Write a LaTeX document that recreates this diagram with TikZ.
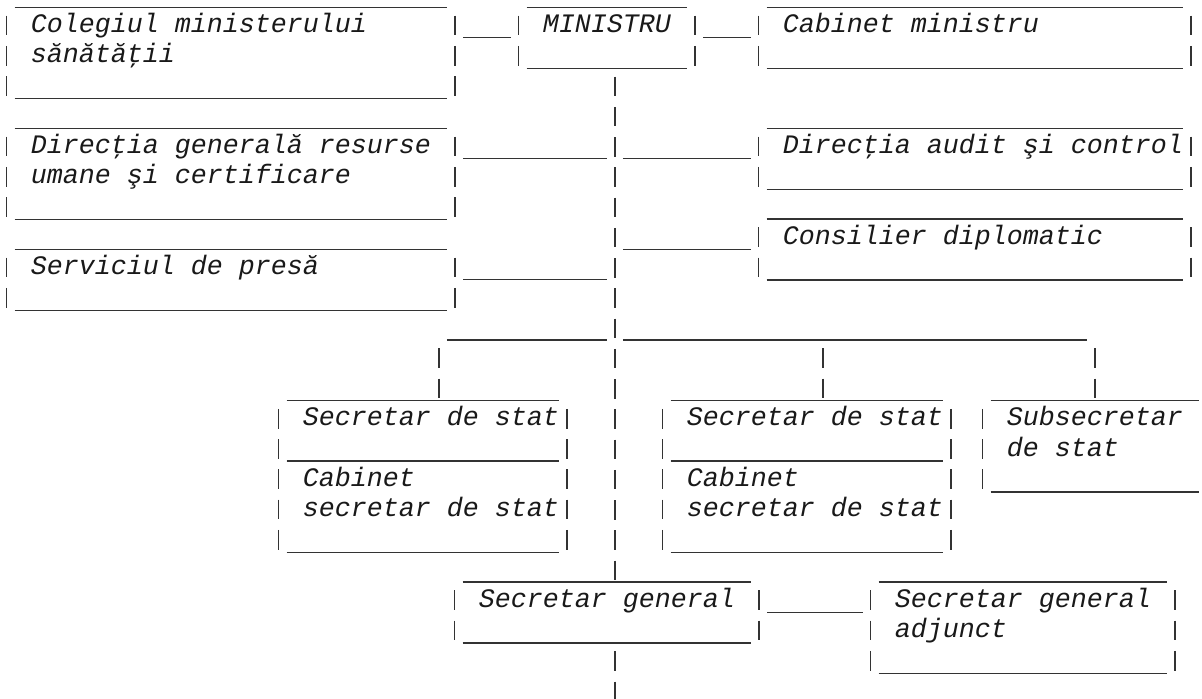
\documentclass[tikz,border=0pt]{standalone}
\usepackage{fontspec}
\setmonofont{Liberation Mono}
\usetikzlibrary{positioning}
\tikzset{
  box/.style={rectangle, inner sep=0pt, anchor=north west},
  lbl/.style={inner sep=0pt, anchor=base west, text=black!90,
    font=\ttfamily\itshape\fontsize{26.67}{30.25}\selectfont},
  hbar/.style={line width=1.5pt, draw=black!80},
  vbar/.style={hbar, dash pattern=on 19.6pt off 10.65pt, dash phase=22.05pt},
  link/.style={hbar, shorten <=8pt, shorten >=8pt}
}
\begin{document}
\begin{tikzpicture}[x=16pt, y=-30.25pt]
\useasboundingbox (-0.419,-0.248) rectangle (74.71,22.83);
% boxes: name/left col/top row/right col/bottom row/text
\foreach \n/\ca/\ra/\cb/\rb/\txt in {
    colegiu/0/0/28/3/{Colegiul ministerului\\sănătăţii},
    ministru/32/0/43/2/{MINISTRU},
    cabmin/47/0/74/2/{Cabinet ministru},
    dgrh/0/4/28/7/{Direcţia generală resurse\\umane şi certificare},
    audit/47/4/74/6/{Direcţia audit şi control},
    consilier/47/7/74/9/{Consilier diplomatic},
    presa/0/8/28/10/{Serviciul de presă},
    ss1/17/13/35/15/{Secretar de stat},
    cab1/17/15/35/18/{Cabinet\\secretar de stat},
    ss2/41/13/59/15/{Secretar de stat},
    cab2/41/15/59/18/{Cabinet\\secretar de stat},
    subsec/61/13/75/16/{Subsecretar\\de stat},
    sg/28/19/47/21/{Secretar general},
    sga/54/19/73/22/{Secretar general\\adjunct}}{
  \node[box, minimum width={(\cb-\ca)*16pt}, minimum height={(\rb-\ra)*30.25pt}] (\n) at (\ca,\ra) {};
  \node[lbl] (\n-label) at ([shift={(24pt,-25.25pt)}]\n.north west) {\parbox[t]{30em}{\txt}};
  \draw[hbar] ([xshift=8pt]\n.north west) -- ([xshift=-8pt]\n.north east)
              ([xshift=8pt]\n.south west) -- ([xshift=-8pt]\n.south east);
  \draw[vbar] (\n.north west) -- (\n.south west) (\n.north east) -- (\n.south east);
}
\coordinate (axis) at ([xshift=8pt]ministru.south);
\foreach \r in {1,5,8,9,11,20,23} \coordinate (row\r) at (0,\r);
% top row
\draw[link] (colegiu.east |- row1) -- (ministru.west |- row1);
\draw[link] (ministru.east |- row1) -- (cabmin.west |- row1);
% spine
\draw[vbar] (axis) -- (axis |- sg.north);
\draw[vbar] (axis |- sg.south) -- (axis |- row23);
\draw[link] (dgrh.east |- row5) -- (axis |- row5);
\draw[link] (axis |- row5) -- (audit.west |- row5);
\draw[link] (axis |- row8) -- (consilier.west |- row8);
\draw[link] (presa.east |- row9) -- (axis |- row9);
\draw[link] (sg.east |- row20) -- (sga.west |- row20);
% secretaries
\coordinate (bus) at (axis |- row11);
\coordinate (drop1) at ([xshift=16pt]ss1.north);
\coordinate (drop2) at ([xshift=16pt]ss2.north);
\draw[link] (drop1 |- bus) -- (bus);
\draw[link] (bus) -- (subsec.north |- bus);
\foreach \d in {drop1, drop2, subsec.north} \draw[vbar] (\d |- bus) -- (\d);
\end{tikzpicture}
\end{document}
